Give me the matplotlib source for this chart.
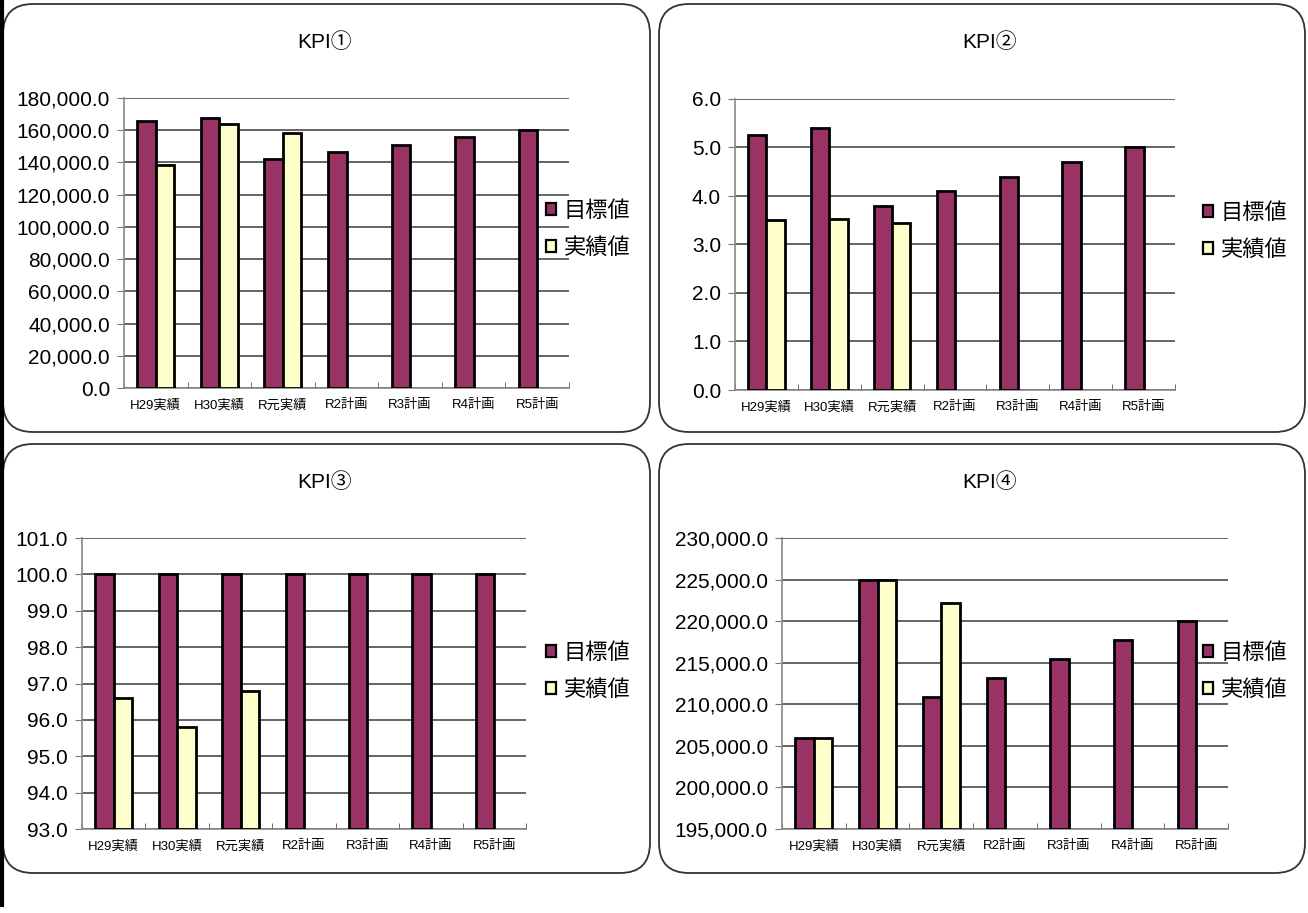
import matplotlib
matplotlib.use('Agg')
import matplotlib.pyplot as plt
import numpy as np
from matplotlib.patches import FancyBboxPatch, Patch
from matplotlib.ticker import FuncFormatter, FixedLocator

plt.rcParams['font.family'] = ['Liberation Sans', 'Noto Sans CJK JP']

# categories and series
years = ['H29実績', 'H30実績', 'R元実績', 'R2計画', 'R3計画', 'R4計画', 'R5計画']
series_names = ['目標値', '実績値']

kpi1_target = [166000, 167800, 142300, 146500, 151000, 155500, 160000]
kpi1_actual = [138400, 163900, 158100, None, None, None, None]

kpi2_target = [5.25, 5.4, 3.8, 4.1, 4.4, 4.7, 5.0]
kpi2_actual = [3.5, 3.53, 3.45, None, None, None, None]

kpi3_target = [100.0, 100.0, 100.0, 100.0, 100.0, 100.0, 100.0]
kpi3_actual = [96.6, 95.8, 96.8, None, None, None, None]

kpi4_target = [205900, 224900, 210900, 213200, 215400, 217700, 220000]
kpi4_actual = [205900, 224900, 222200, None, None, None, None]

titles = ['KPI①', 'KPI②', 'KPI③', 'KPI④']

W, H = 1308, 913
fig = plt.figure(figsize=(W / 100, H / 100), dpi=100)

# pixel-space background layer for rounded frames
bg = fig.add_axes([0, 0, 1, 1], zorder=0)
bg.set_xlim(0, W)
bg.set_ylim(H, 0)
bg.axis('off')

frames = [(3, 4, 647, 428), (659, 4, 646, 428), (3, 444, 647, 429), (659, 444, 646, 429)]
for (x, y, w, h) in frames:
    bg.add_patch(FancyBboxPatch((x, y), w, h, boxstyle='round,pad=0,rounding_size=30',
                                facecolor='white', edgecolor='#333333', lw=1.3))
bg.plot([1.5, 1.5], [0, 905], color='black', lw=3)

target_color = '#993366'
actual_color = '#FFFFCC'

# (left, right, top, bottom) of each plot area in pixels
areas = [(124, 569, 98, 388), (735, 1175, 99, 390), (82, 526, 538, 829), (782, 1228, 538, 829)]
limits = [(0, 180000, 20000), (0, 6.0, 1.0), (93, 101, 1.0), (195000, 230000, 5000)]
fmts = ['{:,.1f}', '{:.1f}', '{:.1f}', '{:,.1f}']
title_pos = [(325, 42), (990, 42), (325, 482), (990, 482)]
legend_pos = [(546, 201), (1203, 203), (546, 643), (1203, 643)]
data = [(kpi1_target, kpi1_actual), (kpi2_target, kpi2_actual),
        (kpi3_target, kpi3_actual), (kpi4_target, kpi4_actual)]

x = np.arange(len(years))
bw = 0.29

for i in range(4):
    l, r, t, b = areas[i]
    ax = fig.add_axes([l / W, 1 - b / H, (r - l) / W, (b - t) / H], zorder=1)
    ax.set_facecolor('none')
    lo, hi, step = limits[i]
    tgt, act = data[i]

    ax.bar(x - bw / 2, np.array(tgt) - lo, bw, bottom=lo, color=target_color,
           edgecolor='black', linewidth=2, zorder=3)
    xa = [xx for xx, v in zip(x, act) if v is not None]
    va = [v for v in act if v is not None]
    ax.bar(np.array(xa) + bw / 2, np.array(va) - lo, bw, bottom=lo, color=actual_color,
           edgecolor='black', linewidth=2, zorder=3)

    ax.set_xlim(-0.5, len(years) - 0.5)
    ax.set_ylim(lo, hi)
    ax.set_yticks(np.arange(lo, hi + step / 2, step))
    ax.yaxis.set_major_formatter(FuncFormatter(lambda v, p, f=fmts[i]: f.format(v)))
    ax.yaxis.grid(True, color='#3a3a3a', lw=1.1, zorder=1)
    ax.set_axisbelow(True)

    ax.set_xticks(x)
    ax.set_xticklabels(years, fontsize=9.5)
    ax.tick_params(axis='x', length=0, pad=8)
    ax.xaxis.set_minor_locator(FixedLocator(np.arange(-0.5, len(years), 1.0)))
    ax.tick_params(axis='x', which='minor', direction='in', length=4, color='#555555')
    ax.tick_params(axis='y', length=5, color='#777777', labelsize=15, pad=5)

    for s in ['top', 'right']:
        ax.spines[s].set_visible(False)
    ax.spines['left'].set_color('#888888')
    ax.spines['bottom'].set_color('#888888')
    ax.spines['left'].set_linewidth(1.2)
    ax.spines['bottom'].set_linewidth(1.2)

    tx, ty = title_pos[i]
    fig.text(tx / W, 1 - ty / H, titles[i], fontsize=15, ha='center', va='center')

    lx, ly = legend_pos[i]
    handles = [Patch(facecolor=target_color, edgecolor='black', lw=1.6),
               Patch(facecolor=actual_color, edgecolor='black', lw=1.6)]
    ax.legend(handles, series_names, loc='upper left', bbox_to_anchor=(lx / W, 1 - ly / H),
              bbox_transform=fig.transFigure, frameon=False, fontsize=16,
              handlelength=0.45, handleheight=0.45, handletextpad=0.35,
              labelspacing=0.7, borderpad=0, borderaxespad=0)

fig.savefig('out.png', dpi=100)
